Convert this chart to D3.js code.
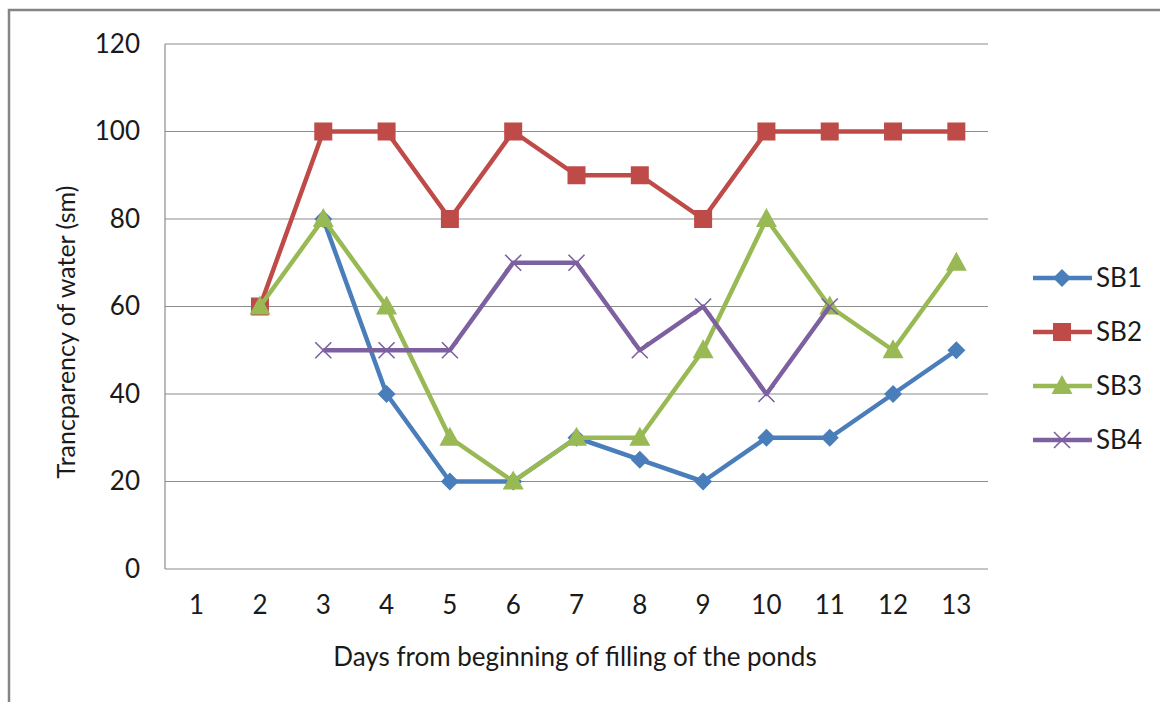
<!DOCTYPE html>
<html><head><meta charset="utf-8">
<script src="https://cdn.jsdelivr.net/npm/d3@7"></script>
<style>body{margin:0;background:#fff;} text{font-family:"Lato","Open Sans",sans-serif;}</style>
</head><body><svg id="c" width="1160" height="702"></svg>
<script>
const days = [1,2,3,4,5,6,7,8,9,10,11,12,13];
const yTicks = [0,20,40,60,80,100,120];
const seriesNames = ["SB1","SB2","SB3","SB4"];
const sb1 = [null,null,80,40,20,20,30,25,20,30,30,40,50];
const sb2 = [null,60,100,100,80,100,90,90,80,100,100,100,100];
const sb3 = [null,60,80,60,30,20,30,30,50,80,60,50,70];
const sb4 = [null,null,50,50,50,70,70,50,60,40,60,null,null];
const colors = ["#4A7EBB","#BE4B48","#98B954","#7D60A0"];
const markers = ["diamond","square","triangle","x"];
const allSeries = [sb1,sb2,sb3,sb4];
const FS = 26;

const svg = d3.select("#c");
svg.append("rect").attr("x",9).attr("y",10).attr("width",1200).attr("height",750)
  .attr("fill","#fff").attr("stroke","#858585").attr("stroke-width",2.5);

const L=165,R=988,T=44,B=569;
const x = d3.scaleBand().domain(days).range([L,R]);
const y = d3.scaleLinear().domain([0,120]).range([B,T]);

const g = svg.append("g");
g.selectAll("line.grid").data(yTicks.filter(d=>d>0)).join("line")
  .attr("x1",L).attr("x2",R).attr("y1",d=>y(d)).attr("y2",d=>y(d))
  .attr("stroke","#8c8c8c").attr("stroke-width",1.2);
g.append("line").attr("x1",L).attr("x2",L).attr("y1",T).attr("y2",B).attr("stroke","#8c8c8c").attr("stroke-width",1.2);
g.append("line").attr("x1",L).attr("x2",R).attr("y1",B).attr("y2",B).attr("stroke","#8c8c8c").attr("stroke-width",1.2);

const yAxis = d3.axisLeft(y).tickValues(yTicks).tickSize(0).tickPadding(25);
const ya = svg.append("g").attr("transform",`translate(${L},0)`).call(yAxis);
ya.select(".domain").remove();
ya.selectAll("text").attr("font-size",FS).attr("fill","#1a1a1a").style("font-family","Lato, 'Open Sans', sans-serif");

const xAxis = d3.axisBottom(x).tickSize(0).tickPadding(27);
const xa = svg.append("g").attr("transform",`translate(0,${B})`).call(xAxis);
xa.select(".domain").remove();
xa.selectAll("text").attr("font-size",FS).attr("fill","#1a1a1a").style("font-family","Lato, 'Open Sans', sans-serif");

svg.append("text").attr("x",575).attr("y",666).attr("text-anchor","middle")
  .attr("font-size",FS).attr("fill","#1a1a1a").text("Days from beginning of filling of the ponds");
svg.append("text").attr("transform","translate(75,332) rotate(-90)").attr("text-anchor","middle")
  .attr("font-size",FS-1).attr("fill","#1a1a1a").text("Trancparency of water (sm)");

function drawMarker(sel, type, color){
  if(type==="diamond"){
    sel.append("path").attr("d","M0,-9L9,0L0,9L-9,0Z").attr("fill",color);
  } else if(type==="square"){
    sel.append("rect").attr("x",-9).attr("y",-9).attr("width",18).attr("height",18).attr("fill",color);
  } else if(type==="triangle"){
    sel.append("path").attr("d","M0,-11L10.5,8L-10.5,8Z").attr("fill",color);
  } else {
    sel.append("path").attr("d","M-8,-8L8,8M-8,8L8,-8").attr("stroke",color).attr("stroke-width",1.6).attr("fill","none");
  }
}

const cx = d => x(d)+x.bandwidth()/2;
allSeries.forEach((s,i)=>{
  const pts = days.map((d,j)=>({d,v:s[j]})).filter(p=>p.v!==null);
  const line = d3.line().x(p=>cx(p.d)).y(p=>y(p.v));
  svg.append("path").datum(pts).attr("d",line).attr("fill","none")
    .attr("stroke",colors[i]).attr("stroke-width",4.5).attr("stroke-linejoin","round");
  pts.forEach(p=>{
    const m = svg.append("g").attr("transform",`translate(${cx(p.d)},${y(p.v)})`);
    drawMarker(m, markers[i], colors[i]);
  });
});

const legY = [278,332,386,440];
seriesNames.forEach((n,i)=>{
  const lg = svg.append("g").attr("transform",`translate(0,${legY[i]})`);
  lg.append("line").attr("x1",1033).attr("x2",1092).attr("y1",0).attr("y2",0)
    .attr("stroke",colors[i]).attr("stroke-width",4.5);
  const m = lg.append("g").attr("transform","translate(1062,0)");
  drawMarker(m, markers[i], colors[i]);
  lg.append("text").attr("x",1096).attr("y",9).attr("font-size",FS).attr("fill","#1a1a1a").text(n);
});
</script></body></html>
